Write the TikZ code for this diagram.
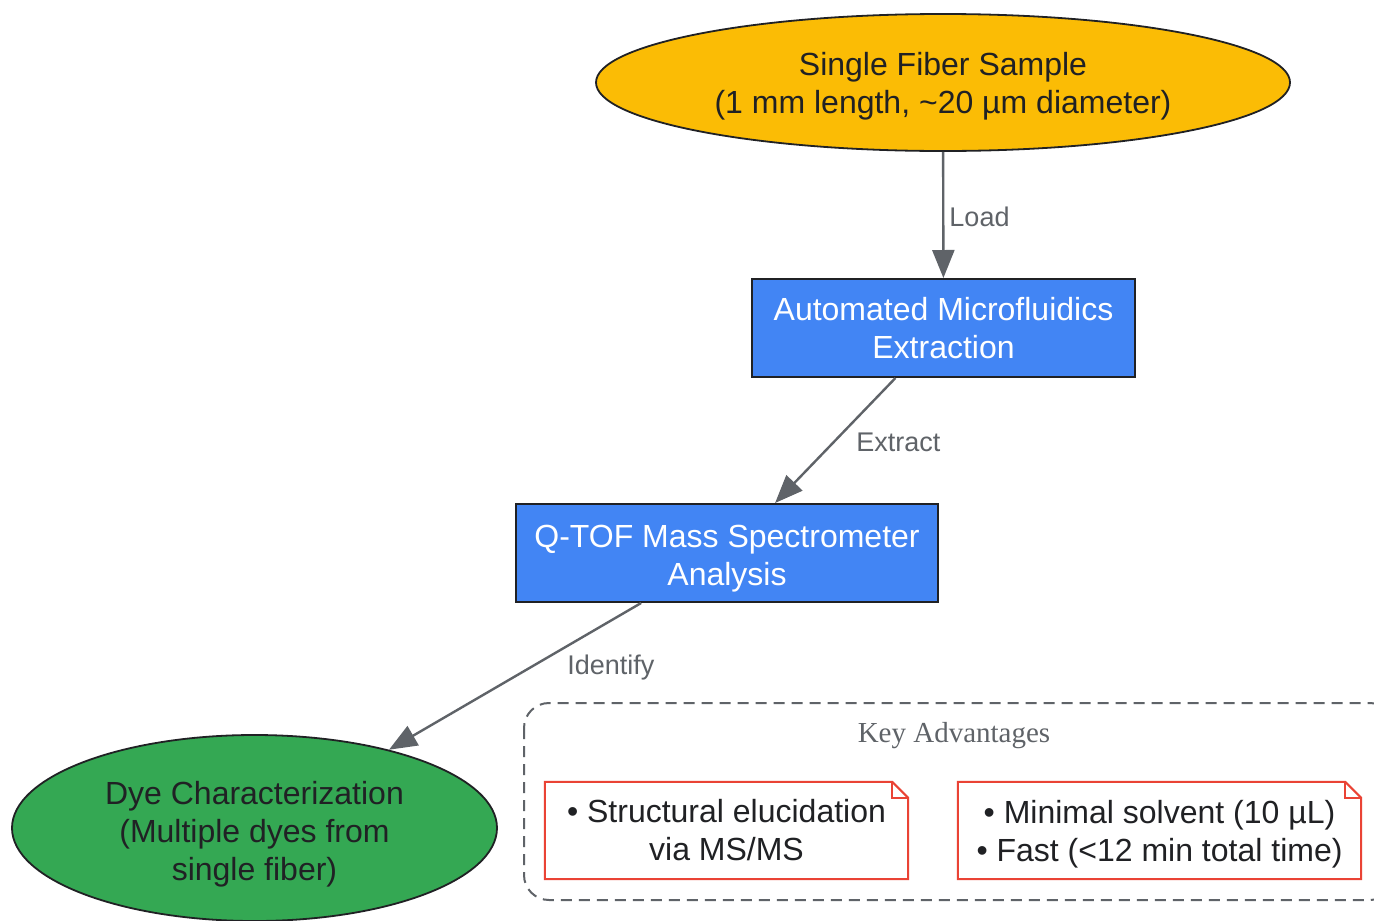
\documentclass[tikz,border=0pt]{standalone}
\usepackage{fontspec}
\setmainfont{Liberation Sans}
\newfontfamily\titlefont{Liberation Serif}
\usetikzlibrary{shapes.geometric,arrows.meta}
\definecolor{gyellow}{HTML}{FBBC05}
\definecolor{gblue}{HTML}{4285F4}
\definecolor{ggreen}{HTML}{34A853}
\definecolor{ggray}{HTML}{5F6368}
\definecolor{gred}{HTML}{EA4335}
\definecolor{gdark}{HTML}{202124}
\newcommand\toplift[1]{\rule{0pt}{#1}}
\tikzset{
  x=1pt,y=-1pt,
  base/.style={font=\fontsize{32}{38}\selectfont, align=center, inner sep=0pt},
  oval/.style={base, ellipse, draw=gdark, line width=1.8pt, text=gdark},
  procbox/.style={base, rectangle, draw=gdark, line width=2pt, fill=gblue, text=white,
     minimum height=98pt},
  notebox/.style={base, rectangle, minimum height=97pt, text=gdark},
  conn/.style={draw=ggray, line width=2.4pt, -{Triangle[length=28pt,width=22pt]}},
  elabel/.style={font=\fontsize{27}{32}\selectfont, text=ggray, inner sep=0pt, anchor=west},
}
\begin{document}
\begin{tikzpicture}
\useasboundingbox (0,0) rectangle (1374,921);
\fill[white] (0,0) rectangle (1374,921);

% cluster
\draw[ggray, line width=2pt, dash pattern=on 11pt off 7pt, rounded corners=25pt]
  (524,703) rectangle (1395,900);
\node[font=\titlefont\fontsize{29}{33}\selectfont, text=ggray, inner sep=0pt] (ctitle) at (954,736) {Key Advantages};

% nodes
\node[oval, fill=gyellow, minimum width=694pt, minimum height=137pt] (sample) at (943,82.5)
  {\toplift{31.5pt}Single Fiber Sample\\(1 mm length, \textasciitilde 20 µm diameter)};
\node[procbox, minimum width=383pt] (extr) at (943.5,328) {Automated Microfluidics\\Extraction};
\node[procbox, minimum width=422pt] (qtof) at (727,553) {\toplift{33.3pt}Q-TOF Mass Spectrometer\\Analysis};
\node[oval, fill=ggreen, minimum width=485pt, minimum height=186pt] (dye) at (254.5,828)
  {\toplift{35.3pt}Dye Characterization\\(Multiple dyes from\\single fiber)};

% notes
\node[notebox, minimum width=363pt] (n1) at (726.5,830.5) {• Structural elucidation\\via MS/MS};
\node[notebox, minimum width=403pt] (n2) at (1159.5,830.5) {\toplift{31.3pt}• Minimal solvent (10 µL)\\• Fast (<12 min total time)};
\foreach \n in {n1,n2}{
  \draw[gred, line width=2pt, fill=none]
    (\n.north west) -- ([xshift=-16pt]\n.north east) -- ([yshift=-16pt]\n.north east)
    -- (\n.south east) -- (\n.south west) -- cycle;
  \draw[gred, line width=2pt]
    ([xshift=-16pt]\n.north east) -- ([xshift=-16pt,yshift=-16pt]\n.north east) -- ([yshift=-16pt]\n.north east);
}

% connectors
\draw[conn] (sample) -- node[elabel, xshift=5pt, yshift=-2pt] (lload) {Load} (extr);
\draw[conn] (extr) -- node[elabel, xshift=20pt, yshift=-2pt] (lextr) {Extract} (qtof);
\draw[conn] (qtof) -- node[elabel, xshift=51pt, yshift=9pt] (lident) {Identify} (dye);
\end{tikzpicture}
\end{document}
